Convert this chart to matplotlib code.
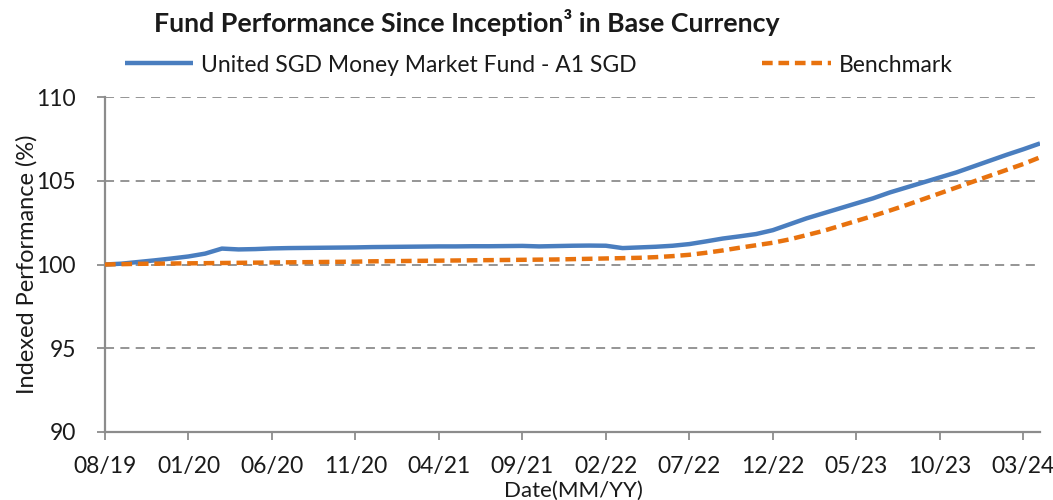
import matplotlib
matplotlib.use("Agg")
import matplotlib.pyplot as plt
import numpy as np

plt.rcParams['font.family'] = ['Lato', 'DejaVu Sans']

tick_labels = ["08/19", "01/20", "06/20", "11/20", "04/21", "09/21", "02/22",
               "07/22", "12/22", "05/23", "10/23", "03/24"]

fund = [100.00, 100.05, 100.15, 100.25, 100.36, 100.48, 100.65, 100.95, 100.90, 100.92,
        100.96, 100.98, 100.99, 101.00, 101.01, 101.02, 101.04, 101.05, 101.06, 101.07,
        101.08, 101.08, 101.09, 101.09, 101.10, 101.11, 101.08, 101.10, 101.12, 101.13,
        101.12, 100.98, 101.02, 101.06, 101.12, 101.22, 101.38, 101.55, 101.68, 101.82,
        102.05, 102.40, 102.75, 103.05, 103.35, 103.65, 103.95, 104.30, 104.60, 104.90,
        105.20, 105.50, 105.85, 106.20, 106.55, 106.88, 107.23]

benchmark = [100.00, 100.02, 100.04, 100.05, 100.06, 100.07, 100.08, 100.09, 100.10, 100.11,
             100.12, 100.13, 100.14, 100.15, 100.16, 100.17, 100.19, 100.20, 100.21, 100.22,
             100.23, 100.24, 100.25, 100.26, 100.27, 100.28, 100.29, 100.30, 100.32, 100.34,
             100.36, 100.38, 100.40, 100.44, 100.50, 100.58, 100.70, 100.84, 101.00, 101.15,
             101.30, 101.50, 101.75, 102.00, 102.30, 102.60, 102.90, 103.22, 103.55, 103.90,
             104.25, 104.60, 104.95, 105.30, 105.65, 106.00, 106.40]

months = np.arange(len(fund))
tick_pos = np.arange(0, len(fund), 5)

fig = plt.figure(figsize=(10.53, 5.0), dpi=100)
ax = fig.add_axes([0.0997, 0.136, 0.888, 0.670])

ax.plot(months, fund, color='#4A7EBF', lw=3.2, solid_capstyle='butt',
        label='United SGD Money Market Fund - A1 SGD', zorder=3)
ax.plot(months, benchmark, color='#E8720E', lw=3.2, dashes=(2.4, 1.3),
        label='Benchmark', zorder=3)

ax.set_xlim(0, len(fund) - 1)
ax.set_ylim(90, 110)
ax.set_yticks([90, 95, 100, 105, 110])
ax.set_xticks(tick_pos)
ax.set_xticklabels(tick_labels)

for y in [95, 100, 105, 110]:
    ax.axhline(y, color='#8C8C8C', lw=1.3, dashes=(5, 3.5), zorder=1)

for s in ['top', 'right']:
    ax.spines[s].set_visible(False)
for s in ['left', 'bottom']:
    ax.spines[s].set_color('#8C8C8C')
    ax.spines[s].set_linewidth(1.6)

ax.tick_params(axis='both', colors='#8C8C8C', length=6, width=1.3,
               labelsize=16.5, labelcolor='#1a1a1a', direction='out')
ax.tick_params(axis='x', pad=11)
ax.tick_params(axis='y', pad=15)

ax.set_ylabel('Indexed Performance (%)', fontsize=17, color='#1a1a1a', labelpad=-1)
fig.text(0.545, 0.018, 'Date(MM/YY)', ha='center', va='center',
         fontsize=16, color='#1a1a1a')

fig.text(0.443, 0.955, 'Fund Performance Since Inception³ in Base Currency',
         ha='center', va='center', fontsize=19.3, fontweight='bold', color='#1a1a1a')

leg = fig.legend(loc='center', bbox_to_anchor=(0.5115, 0.87), ncol=2, frameon=False,
                 fontsize=16.5, handlelength=3.0, columnspacing=5.45, handletextpad=0.35)
for t in leg.get_texts():
    t.set_color('#1a1a1a')

fig.savefig('out.png', dpi=100)
